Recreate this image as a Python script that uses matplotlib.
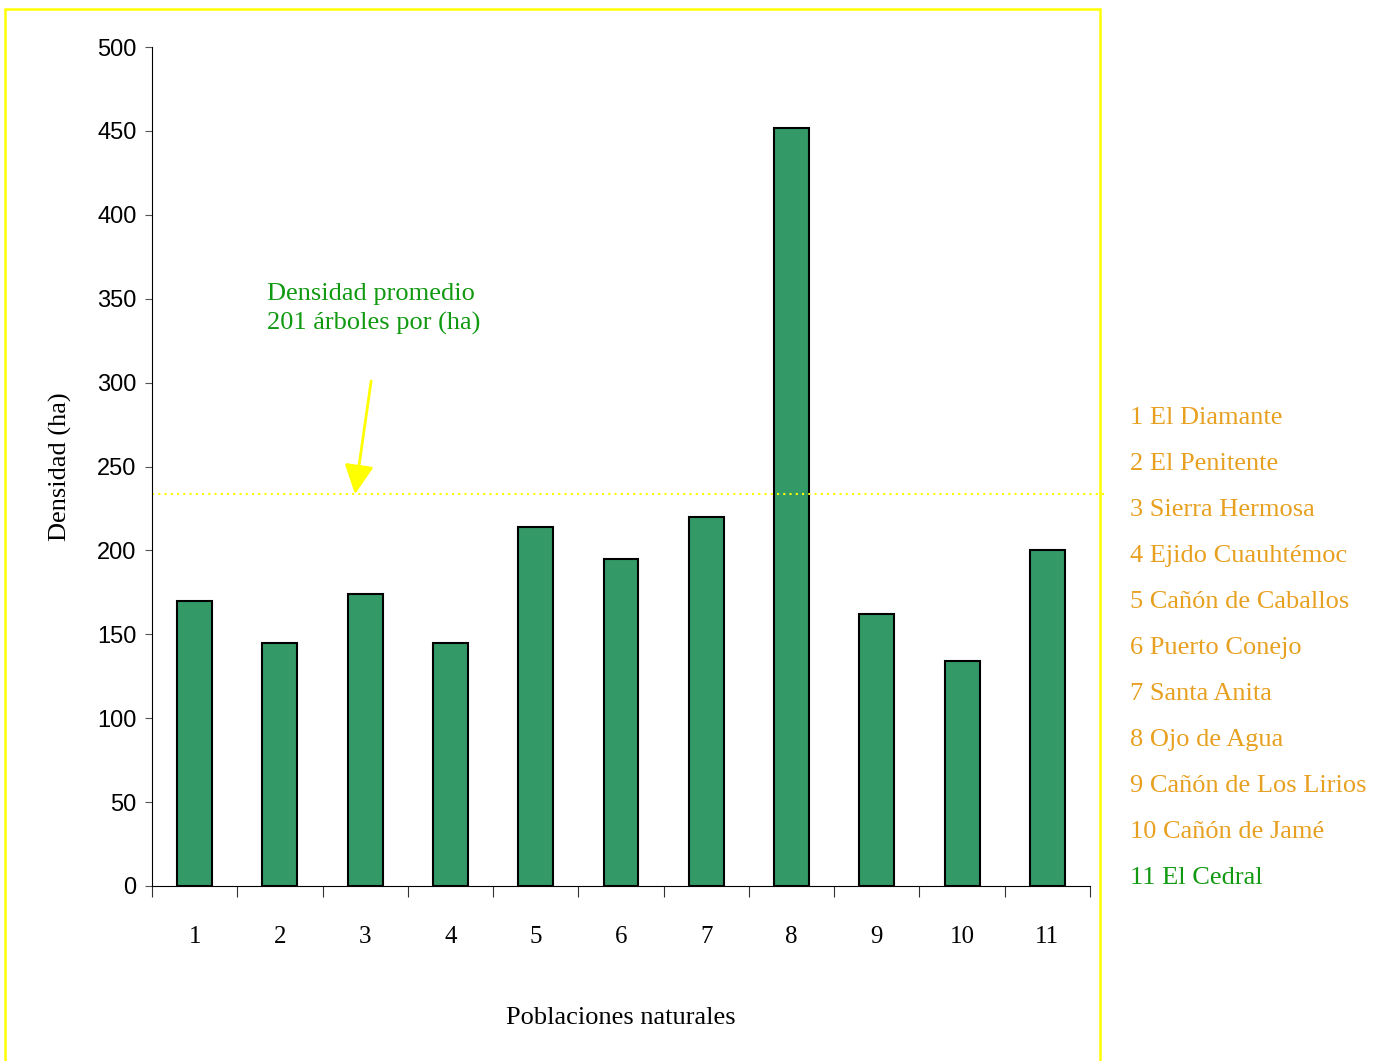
import matplotlib.pyplot as plt
from matplotlib.patches import Rectangle
import numpy as np

poblaciones = ['1', '2', '3', '4', '5', '6', '7', '8', '9', '10', '11']
densidad = [170, 145, 174, 145, 214, 195, 220, 452, 162, 134, 200]
promedio = 233.5
nombres = ['1 El Diamante', '2 El Penitente', '3 Sierra Hermosa', '4 Ejido Cuauhtémoc',
           '5 Cañón de Caballos', '6 Puerto Conejo', '7 Santa Anita', '8 Ojo de Agua',
           '9 Cañón de Los Lirios', '10 Cañón de Jamé', '11 El Cedral']

serif = 'Liberation Serif'
sans = 'Liberation Sans'

fig = plt.figure(figsize=(13.84, 10.61), dpi=100)
ax = fig.add_axes([152/1384, 1-886/1061, (1090-152)/1384, (886-47)/1061])

x = np.arange(1, len(densidad) + 1)
ax.bar(x, densidad, width=0.41, color='#339966', edgecolor='black', linewidth=1.5)

ax.set_xlim(0.5, 11.5)
ax.set_ylim(0, 500)
ax.set_yticks(np.arange(0, 501, 50))
ax.tick_params(axis='y', length=5, pad=6, labelsize=17, color='#555555')
for t in ax.get_yticklabels():
    t.set_fontfamily(sans)

# ticks between categories, labels at centres
ax.set_xticks(np.arange(0.5, 12, 1))
ax.set_xticklabels([])
ax.tick_params(axis='x', which='major', length=8, color='#333333')
ax.set_xticks(x, minor=True)
ax.set_xticklabels(poblaciones, minor=True, fontfamily=serif, fontsize=18)
ax.tick_params(axis='x', which='minor', length=0, pad=29)

ax.spines['top'].set_visible(False)
ax.spines['right'].set_visible(False)

ax.set_xlabel('Poblaciones naturales', fontfamily=serif, fontsize=19, labelpad=42)
ax.set_ylabel('Densidad (ha)', fontfamily=serif, fontsize=19, labelpad=18)

# average line and annotation
ax.plot([0.5, 11.7], [promedio, promedio], color='#FFFF00', linestyle=(0, (1, 2)),
        linewidth=1.5, clip_on=False)
ax.annotate('', xy=(2.88, promedio), xytext=(3.07, 301),
            arrowprops=dict(arrowstyle='-|>,head_width=0.9,head_length=1.8',
                            color='#FFFF00', lw=2, shrinkA=0, shrinkB=0))
ax.text(1.85, (886 - 309)/1.678, 'Densidad promedio\n201 árboles por (ha)',
        fontfamily=serif, fontsize=19, color='#119911', va='center', ha='left',
        linespacing=1.4)

# names list at right
for i, n in enumerate(nombres):
    col = '#119911' if i == len(nombres) - 1 else '#E8A020'
    fig.text(1130/1384, 1 - (418 + 46*i)/1061, n, fontfamily=serif, fontsize=19,
             color=col, va='center', ha='left')

# yellow frame
fig.patches.append(Rectangle((5/1384, -0.05), (1100-5)/1384, 1.05 - 9/1061,
                             transform=fig.transFigure, fill=False,
                             edgecolor='#FFFF00', linewidth=1.8))

fig.savefig('out.png', dpi=100)
